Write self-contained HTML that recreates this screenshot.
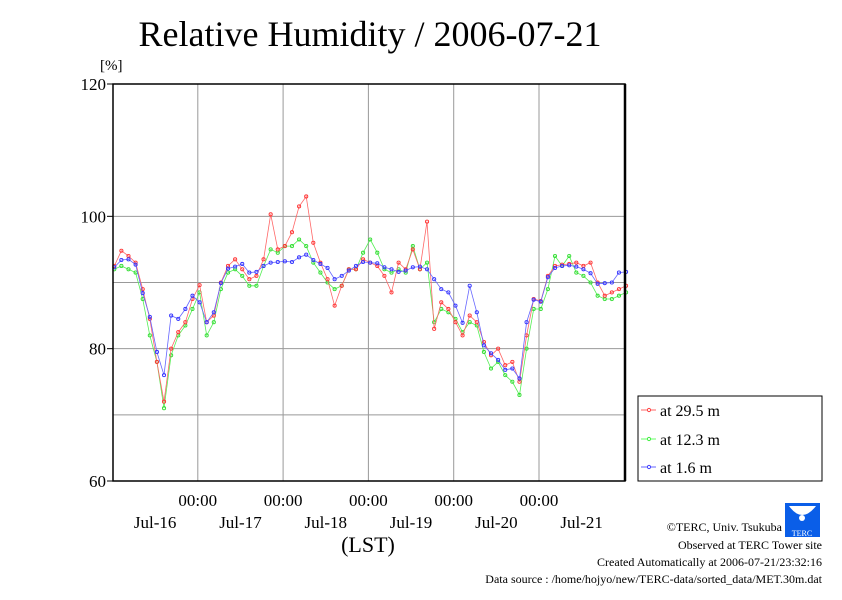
<!DOCTYPE html>
<html><head><meta charset="utf-8"><style>
body{margin:0;background:#fff;}
svg text{font-family:"Liberation Serif",serif;}
</style></head><body>
<svg width="842" height="595" xmlns="http://www.w3.org/2000/svg">
<rect width="842" height="595" fill="#fff"/>
<text x="370" y="46" font-size="36" text-anchor="middle">Relative Humidity / 2006-07-21</text>
<text x="100" y="70" font-size="15">[%]</text>
<g id="grid"></g>
<g id="yticks"></g>
<g id="xticks"></g>
<g id="series"></g>
<rect x="113" y="84" width="512" height="397" fill="none" stroke="#000" stroke-width="1.5"/>
<line x1="625" y1="84" x2="625" y2="481" stroke="#000" stroke-width="2.5"/>
<text x="368" y="552" font-size="22" text-anchor="middle">(LST)</text>
<g>
<rect x="638" y="396" width="184" height="85" fill="#fff" stroke="#000" stroke-width="1"/>
<g><line x1="641" y1="410" x2="656" y2="410" stroke="#f66"/><circle cx="649" cy="410" r="1.6" fill="#fff" stroke="#f44"/><text x="660" y="416" font-size="16">at 29.5 m</text></g>
<g><line x1="641" y1="439" x2="656" y2="439" stroke="#6f6"/><circle cx="649" cy="439" r="1.6" fill="#fff" stroke="#4e4"/><text x="660" y="445" font-size="16">at 12.3 m</text></g>
<g><line x1="641" y1="467" x2="656" y2="467" stroke="#66f"/><circle cx="649" cy="467" r="1.6" fill="#fff" stroke="#44f"/><text x="660" y="473" font-size="16">at 1.6 m</text></g>
</g>
<g>
<rect x="785" y="503" width="35" height="34" fill="#0a5ee8"/>
<path d="M789 506 Q802 524 816 506" fill="#fff"/>
<circle cx="802" cy="518" r="3" fill="#fff"/>
<text x="802" y="536" font-size="8" fill="#fff" text-anchor="middle" font-family="Liberation Sans">TERC</text>
</g>
<g font-size="12" text-anchor="end">
<text x="782" y="531">©TERC, Univ. Tsukuba</text>
<text x="822" y="549">Observed at TERC Tower site</text>
<text x="822" y="566">Created Automatically at 2006-07-21/23:32:16</text>
<text x="822" y="583">Data source : /home/hojyo/new/TERC-data/sorted_data/MET.30m.dat</text>
</g>
</svg>
<script>
const yTicks=[60,80,100,120];
const yGrid=[70,80,90,100];
const dayLabels=["Jul-16","Jul-17","Jul-18","Jul-19","Jul-20","Jul-21"];
const midnightLabels=["00:00","00:00","00:00","00:00","00:00"];
const red=[92.5,94.8,94,93,89,84.5,78,72.0,80,82.5,84,87.5,89.6,84,85,90,92.5,93.5,92,90.5,91,93.5,100.3,95,95.5,97.6,101.5,103,96,93,90.5,86.5,89.5,92,92,93.5,93,92.5,91,88.5,93,92,95,92,99.2,83,87,86,84,82,85,84,81,79,80,77.5,78,75,82,87.5,87.2,91,92.5,92.7,92.8,93,92.5,93,90,88,88.5,89,89.5];
const green=[92,92.5,92,91.5,87.5,82,78,71,79,82,83.5,86,88.5,82,84,89,91.5,92,91,89.5,89.5,92.5,95,94.5,95.5,95.5,96.5,95.5,93,91.5,90,89,89.5,92,92,94.5,96.5,94.5,92,91.5,92,91.5,95.5,92,93,84,86,85.5,84.5,82.5,84,83.5,79.5,77,78,76,75,73,80,86,86,89,94,92.5,94,91.5,91,90,88,87.5,87.5,88,88.5];
const blue=[92.3,93.4,93.5,92.7,88.4,84.8,79.5,76.0,85.0,84.5,86.0,88.0,87.0,84.0,85.5,89.9,92.1,92.4,92.8,91.5,91.6,92.5,93.0,93.1,93.2,93.1,93.8,94.2,93.4,92.8,92.2,90.5,91.0,91.8,92.5,93.1,93.0,92.9,92.3,92.0,91.6,91.8,92.3,92.4,92.0,90.5,89.0,88.5,86.5,83.9,89.5,85.5,80.5,79.3,78.3,76.8,77.0,75.5,84.0,87.4,87.1,90.8,92.2,92.5,92.6,92.4,92.0,91.4,89.8,89.9,90.0,91.5,91.6];
const hoursPerPoint=2;
const NS="http://www.w3.org/2000/svg";
const X0=112.5,DAYW=85.3,Y0=481,YPX=397/60;
function xs(h){return X0+h/24*DAYW;}
function ys(v){return Y0-(v-60)*YPX;}
function mk(t,a,p){const e=document.createElementNS(NS,t);for(const k in a)e.setAttribute(k,a[k]);(p||document.getElementById('series')).appendChild(e);return e;}
const grid=document.getElementById('grid');
yGrid.forEach(v=>{const l=mk('line',{x1:113,x2:625,y1:ys(v),y2:ys(v),stroke:'#999','stroke-width':1},grid);

});
midnightLabels.forEach((s,i)=>{const x=xs((i+1)*24);const l=mk('line',{x1:x,x2:x,y1:84,y2:481,stroke:'#999','stroke-width':1},grid);


const t=mk('text',{x:x,y:506,'font-size':17,'text-anchor':'middle'},document.getElementById('xticks'));t.textContent=s;

});
dayLabels.forEach((s,i)=>{const t=mk('text',{x:xs(i*24+12),y:528,'font-size':17,'text-anchor':'middle'},document.getElementById('xticks'));t.textContent=s;

});
yTicks.forEach(v=>{const t=mk('text',{x:106,y:ys(v)+6,'font-size':17,'text-anchor':'end'},document.getElementById('yticks'));t.textContent=v;


const k=mk('line',{x1:113,x2:107,y1:ys(v),y2:ys(v),stroke:'#000'},document.getElementById('yticks'));

});
[[green,'#5e5','#3d3','green-series'],[red,'#f66','#f33','red-series'],[blue,'#66f','#33f','blue-series']].forEach(([d,lc,mc,n])=>{
const g=mk('g',{});


const pts=d.map((v,i)=>xs(i*hoursPerPoint+0.5).toFixed(1)+','+ys(v).toFixed(1)).join(' ');
const pl=mk('polyline',{points:pts,fill:'none',stroke:lc,'stroke-width':0.8},g);


d.forEach((v,i)=>{const c=mk('circle',{cx:xs(i*hoursPerPoint+0.5),cy:ys(v),r:1.6,fill:'none',stroke:mc,'stroke-width':0.9},g);

});
});
</script>
</body></html>
